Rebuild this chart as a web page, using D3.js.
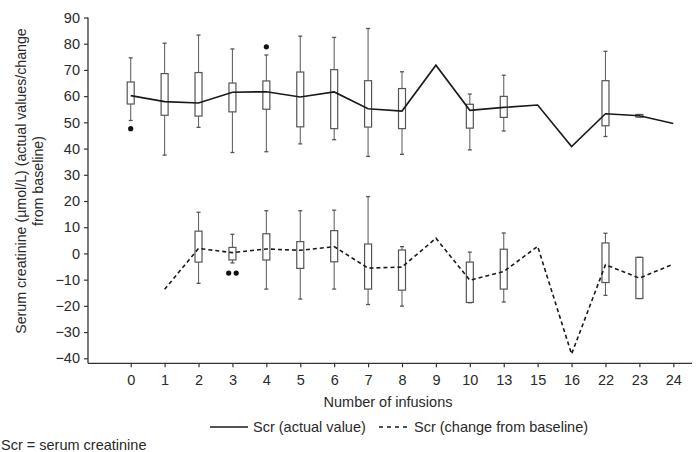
<!DOCTYPE html>
<html><head><meta charset="utf-8">
<script src="https://cdn.jsdelivr.net/npm/d3@7/dist/d3.min.js"></script>
<style>
html,body{margin:0;padding:0;background:#fff;}
svg{display:block;font-family:"Liberation Sans",Arial,Helvetica,sans-serif;}
</style></head>
<body>
<svg id="chart" width="697" height="452"></svg>
<script>
// ---------- DATA ----------
const categories = ["0","1","2","3","4","5","6","7","8","9","10","13","15","16","22","23","24"];
const yTicks = [-40,-30,-20,-10,0,10,20,30,40,50,60,70,80,90];

// Scr actual value
const actualLine   = [60.2, 57.9, 57.4, 61.5, 61.7, 59.7, 61.6, 55.2, 54.3, 71.8, 54.6, 55.7, 56.6, 40.8, 53.3, 52.5, 49.6];
const actualQ3     = [65.4, 68.6, 69.0, 65.0, 65.8, 69.2, 70.1, 65.9, 62.9, null, 56.9, 59.9, null, null, 65.9, 53.0, null];
const actualQ1     = [57.0, 52.7, 52.4, 54.0, 55.0, 48.3, 47.6, 48.2, 47.6, null, 47.8, 51.9, null, null, 48.7, 52.0, null];
const actualHigh   = [74.6, 80.2, 83.3, 78.0, 75.7, 82.9, 82.4, 85.8, 69.3, null, 60.8, 68.0, null, null, 77.1, 53.0, null];
const actualLow    = [50.7, 37.5, 48.1, 38.5, 38.8, 41.8, 43.4, 37.0, 37.8, null, 39.5, 46.7, null, null, 44.6, 52.0, null];
const actualOutCat = ["0", "4"];
const actualOutVal = [47.6, 78.8];

// Scr change from baseline
const changeLine   = [null, -13.7, 1.9, 0.3, 1.7, 1.2, 2.6, -5.6, -5.2, 5.8, -10.2, -6.9, 2.7, -38.4, -4.3, -9.4, -4.1];
const changeQ3     = [null, null, 8.5, 2.3, 7.5, 4.5, 8.7, 3.6, 1.3, null, -3.3, 1.6, null, null, 4.0, -1.5, null];
const changeQ1     = [null, null, -3.3, -2.5, -2.5, -5.7, -3.2, -13.6, -14.0, null, -18.7, -13.6, null, null, -11.1, -17.2, null];
const changeHigh   = [null, null, 15.7, 7.3, 16.3, 16.3, 16.5, 21.7, 2.6, null, 0.5, 7.8, null, null, 7.7, -1.5, null];
const changeLow    = [null, null, -11.4, -3.6, -13.6, -17.4, -13.6, -19.5, -20.1, null, -18.8, -18.5, null, null, -16.0, -17.2, null];
const changeOutCat = ["3", "3"];
const changeOutVal = [-7.5, -7.5];

const yTitle1 = "Serum creatinine (µmol/L) (actual values/change";
const yTitle2 = "from baseline)";
const xTitle = "Number of infusions";
const legendLabels = ["Scr (actual value)", "Scr (change from baseline)"];
const footnote = "Scr = serum creatinine";

// ---------- LAYOUT ----------
const svg = d3.select("#chart");
const axisLeftX = 88, axisBottomY = 363.3, axisRightX = 692, axisTopY = 17.5;
const x = d3.scalePoint().domain(categories).range([130.7, 673.3]);
const y = d3.scaleLinear().domain([-40, 90]).range([358.3, 17.5]);
const axisColor = "#333", textColor = "#2a2a2a", fs = 14.5;

// axes
const gx = svg.append("g").attr("transform", `translate(0,${axisBottomY})`)
  .call(d3.axisBottom(x).tickSize(4).tickPadding(7));
gx.select(".domain").remove();
gx.selectAll("line").attr("stroke", axisColor).attr("stroke-width", 1.2);
gx.selectAll("text").attr("font-size", fs).attr("fill", textColor).attr("font-family", null);

const gy = svg.append("g").attr("transform", `translate(${axisLeftX},0)`)
  .call(d3.axisLeft(y).tickValues(yTicks).tickSize(4).tickPadding(4).tickFormat(d => d < 0 ? "\u2212" + Math.abs(d) : d));
gy.select(".domain").remove();
gy.selectAll("line").attr("stroke", axisColor).attr("stroke-width", 1.2);
gy.selectAll("text").attr("font-size", fs).attr("fill", textColor).attr("font-family", null);

svg.append("line").attr("x1", axisLeftX).attr("x2", axisLeftX).attr("y1", axisTopY).attr("y2", axisBottomY)
  .attr("stroke", axisColor).attr("stroke-width", 1.3);
svg.append("line").attr("x1", axisLeftX).attr("x2", axisRightX).attr("y1", axisBottomY).attr("y2", axisBottomY)
  .attr("stroke", axisColor).attr("stroke-width", 1.3);

// titles
svg.append("text").attr("transform", "translate(26,181) rotate(-90)").attr("text-anchor", "middle")
  .attr("font-size", 14.2).attr("fill", textColor).text(yTitle1);
svg.append("text").attr("transform", "translate(43,181) rotate(-90)").attr("text-anchor", "middle")
  .attr("font-size", 14.2).attr("fill", textColor).text(yTitle2);
svg.append("text").attr("x", 388).attr("y", 407).attr("text-anchor", "middle")
  .attr("font-size", fs).attr("fill", textColor).text(xTitle);

// ---------- BOX PLOTS ----------
const boxW = 7, capW = 4;
function drawBoxes(q1, q3, lo, hi) {
  const g = svg.append("g");
  categories.forEach((c, i) => {
    if (q1[i] == null) return;
    const cx = x(c);
    g.append("line").attr("x1", cx).attr("x2", cx).attr("y1", y(hi[i])).attr("y2", y(lo[i]))
      .attr("stroke", "#666").attr("stroke-width", 1.1);
    [hi[i], lo[i]].forEach(v => g.append("line").attr("x1", cx - capW / 2).attr("x2", cx + capW / 2)
      .attr("y1", y(v)).attr("y2", y(v)).attr("stroke", "#555").attr("stroke-width", 1.3));
    g.append("rect").attr("x", cx - boxW / 2).attr("y", y(q3[i]))
      .attr("width", boxW).attr("height", Math.max(1, y(q1[i]) - y(q3[i])))
      .attr("fill", "#fff").attr("stroke", "#555").attr("stroke-width", 1.2);
  });
}
drawBoxes(actualQ1, actualQ3, actualLow, actualHigh);
drawBoxes(changeQ1, changeQ3, changeLow, changeHigh);

// lines
const lineGen = d3.line().defined(d => d.v != null).x(d => x(d.c)).y(d => y(d.v));
svg.append("path").datum(categories.map((c, i) => ({c, v: actualLine[i]})))
  .attr("d", lineGen).attr("fill", "none").attr("stroke", "#1a1a1a").attr("stroke-width", 1.6);
svg.append("path").datum(categories.map((c, i) => ({c, v: changeLine[i]})))
  .attr("d", lineGen).attr("fill", "none").attr("stroke", "#1a1a1a").attr("stroke-width", 1.6)
  .attr("stroke-dasharray", "4,3");

// outliers (duplicates at same category/value spread side by side)
function drawOutliers(cats, vals) {
  const groups = d3.group(cats.map((c, i) => ({c, v: vals[i]})), d => d.c + "|" + d.v);
  groups.forEach(arr => {
    arr.forEach((d, k) => {
      const off = (k - (arr.length - 1) / 2) * 7.5;
      svg.append("circle").attr("cx", x(d.c) + off).attr("cy", y(d.v)).attr("r", 2.6).attr("fill", "#111");
    });
  });
}
drawOutliers(actualOutCat, actualOutVal);
drawOutliers(changeOutCat, changeOutVal);

// ---------- LEGEND ----------
const ly = 427;
svg.append("line").attr("x1", 210).attr("x2", 248).attr("y1", ly).attr("y2", ly)
  .attr("stroke", "#1a1a1a").attr("stroke-width", 1.6);
svg.append("text").attr("x", 253).attr("y", ly + 5).attr("font-size", fs).attr("fill", textColor).text(legendLabels[0]);
svg.append("line").attr("x1", 379).attr("x2", 409).attr("y1", ly).attr("y2", ly)
  .attr("stroke", "#1a1a1a").attr("stroke-width", 1.6).attr("stroke-dasharray", "4,4");
svg.append("text").attr("x", 414).attr("y", ly + 5).attr("font-size", fs).attr("fill", textColor).text(legendLabels[1]);

svg.append("text").attr("x", 1).attr("y", 450).attr("font-size", fs).attr("fill", textColor).text(footnote);
</script>
</body></html>
